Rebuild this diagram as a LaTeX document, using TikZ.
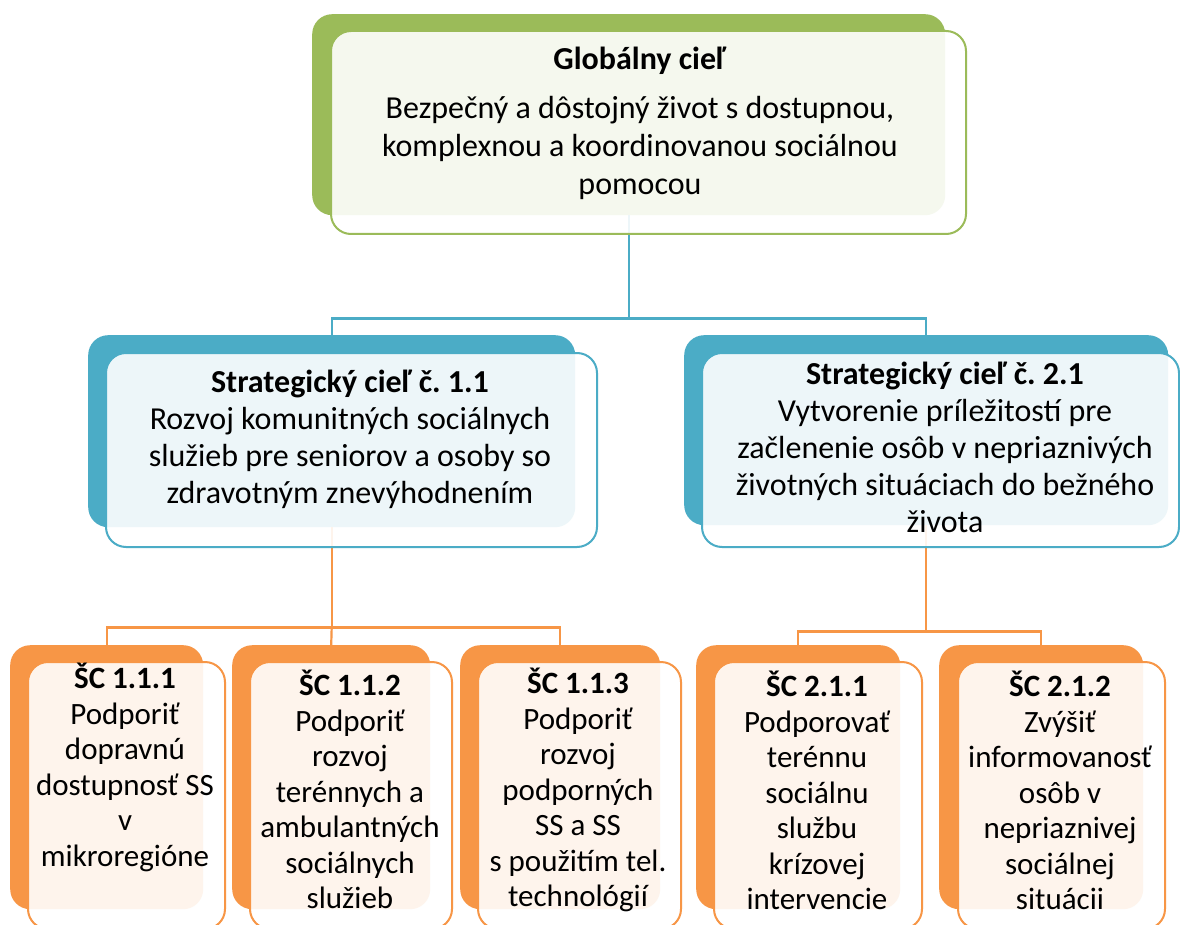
\documentclass[tikz,border=0pt]{standalone}
\usepackage{fontspec}
\setmainfont{Carlito}
\definecolor{cgreen}{HTML}{9BBB59}
\definecolor{cblue}{HTML}{4BACC6}
\definecolor{corange}{HTML}{F79646}
\begin{document}
\frenchspacing
\begin{tikzpicture}[x=1pt,y=-1pt,
  back/.style={rectangle, rounded corners=20pt, inner sep=0pt, anchor=north west},
  front/.style={rectangle, rounded corners=20pt, inner sep=0pt, anchor=north west, fill=white, fill opacity=0.9, line width=2pt},
  txt/.style={align=center, inner sep=0pt, text=black},
  toptxt/.style={txt, font=\fontsize{32}{38}\selectfont},
  midtxt/.style={txt, font=\fontsize{32}{37}\selectfont},
  bottxt/.style={txt, anchor=north, font=\fontsize{31}{35.5}\selectfont},
  bcon/.style={draw=cblue, line width=2.2pt},
  ocon/.style={draw=corange, line width=2.2pt}]
\fill[white] (0,0) rectangle (1180,925);
\useasboundingbox (0,0) rectangle (1180,925);
% back boxes
\node[back, fill=cgreen, minimum width=633pt, minimum height=201pt] (gb) at (312,14) {};
\node[back, fill=cblue, minimum width=487pt, minimum height=192pt] (s1b) at (88,335) {};
\node[back, fill=cblue, minimum width=484pt, minimum height=190pt] (s2b) at (684,335) {};
\node[back, fill=corange, minimum width=193pt, minimum height=264pt] (b1b) at (10,645) {};
\node[back, fill=corange, minimum width=198pt, minimum height=264pt] (b2b) at (232,645) {};
\node[back, fill=corange, minimum width=200pt, minimum height=264pt] (b3b) at (460,645) {};
\node[back, fill=corange, minimum width=204pt, minimum height=264pt] (b4b) at (696,645) {};
\node[back, fill=corange, minimum width=204pt, minimum height=264pt] (b5b) at (939,645) {};
% connectors
\draw[bcon] (gb.south) -- ++(0,103) coordinate (j0);
\draw[bcon] (s1b.north) |- (j0) -| (s2b.north);
\draw[ocon] (s1b.south) -- ++(0,100) coordinate (j1);
\draw[ocon] (b1b.north) |- (j1) -| (b3b.north);
\draw[ocon] (j1) -- (b2b.north);
\draw[ocon] (s2b.south) -- ++(0,106) coordinate (j2);
\draw[ocon] (b4b.north) |- (j2) -| (b5b.north);
% front boxes
\node[front, draw=cgreen, minimum width=635pt, minimum height=203pt] (gf) at (330,30) {};
\node[front, draw=cblue, minimum width=491pt, minimum height=194pt] (s1f) at (105,352) {};
\node[front, draw=cblue, minimum width=477pt, minimum height=194pt] (s2f) at (701,352) {};
\node[front, draw=corange, minimum width=197pt, minimum height=267pt] (b1f) at (27,661) {};
\node[front, draw=corange, minimum width=202pt, minimum height=267pt] (b2f) at (249,661) {};
\node[front, draw=corange, minimum width=203pt, minimum height=267pt] (b3f) at (477,661) {};
\node[front, draw=corange, minimum width=208pt, minimum height=267pt] (b4f) at (713,661) {};
\node[front, draw=corange, minimum width=207pt, minimum height=267pt] (b5f) at (957,661) {};
% texts
\node[toptxt] (gt) at (640,123) {\textbf{Globálny cieľ}\\[11pt] Bezpečný a dôstojný život s dostupnou,\\ komplexnou a koordinovanou sociálnou\\ pomocou};
\node[midtxt] (s1t) at (350,439) {\textbf{Strategický cieľ č. 1.1}\\ Rozvoj komunitných sociálnych\\ služieb pre seniorov a osoby so\\ zdravotným znevýhodnením};
\node[midtxt] (s2t) at (945,447) {\textbf{Strategický cieľ č. 2.1}\\ Vytvorenie príležitostí pre\\ začlenenie osôb v nepriaznivých\\ životných situáciach do bežného\\ života};
\node[bottxt] (b1t) at (125,663) {\textbf{ŠC 1.1.1}\\ Podporiť\\ dopravnú\\ dostupnosť SS\\ v\\ mikroregióne};
\node[bottxt] (b2t) at (350,670) {\textbf{ŠC 1.1.2}\\ Podporiť\\ rozvoj\\ terénnych a\\ ambulantných\\ sociálnych\\ služieb};
\node[bottxt] (b3t) at (578,668) {\textbf{ŠC 1.1.3}\\ Podporiť\\ rozvoj\\ podporných\\ SS a SS\\ s použitím tel.\\ technológií};
\node[bottxt] (b4t) at (817,671) {\textbf{ŠC 2.1.1}\\ Podporovať\\ terénnu\\ sociálnu\\ službu\\ krízovej\\ intervencie};
\node[bottxt] (b5t) at (1060,671) {\textbf{ŠC 2.1.2}\\ Zvýšiť\\ informovanosť\\ osôb v\\ nepriaznivej\\ sociálnej\\ situácii};
\end{tikzpicture}
\end{document}
